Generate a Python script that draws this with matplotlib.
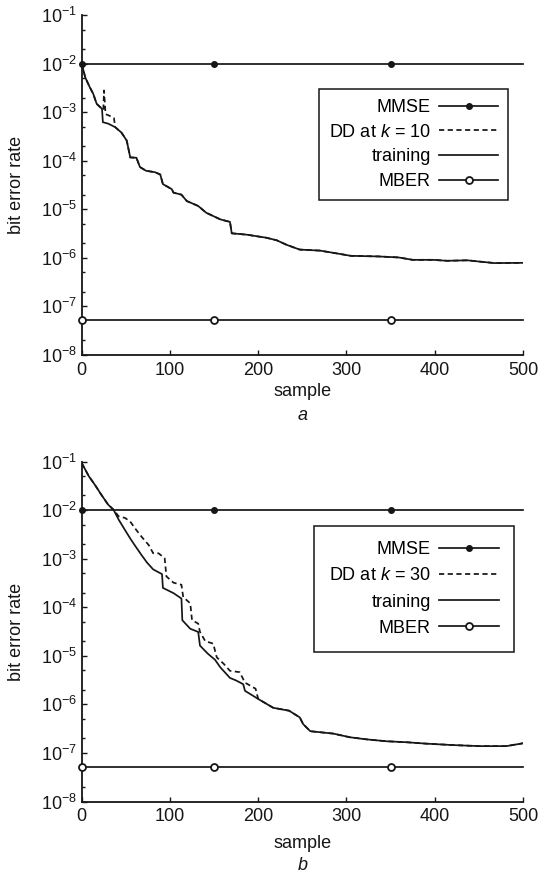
import matplotlib
matplotlib.use("Agg")
import matplotlib.pyplot as plt
from matplotlib.ticker import LogLocator, NullFormatter
from matplotlib.lines import Line2D

plt.rcParams['font.family'] = ['Liberation Sans', 'DejaVu Sans']
plt.rcParams['mathtext.fontset'] = 'custom'
plt.rcParams['mathtext.rm'] = 'Liberation Sans'
plt.rcParams['mathtext.it'] = 'Liberation Sans:italic'
plt.rcParams['mathtext.default'] = 'regular'

# ---- panel a: DD switched on at k = 10 ----
a_train_s = [0, 4, 9, 13, 17, 23, 24, 30, 38, 45, 51, 55, 62, 66, 73, 83, 89, 92,
             102, 104, 113, 119, 132, 141, 157, 168, 170, 187, 209, 221, 232, 247,
             270, 293, 305, 336, 359, 375, 398, 414, 437, 453, 468, 500]
a_train_ber = [1.0e-2, 5.2e-3, 3.3e-3, 2.4e-3, 1.48e-3, 1.17e-3, 6.2e-4, 5.8e-4,
               4.9e-4, 3.8e-4, 2.6e-4, 1.17e-4, 1.15e-4, 7.4e-5, 6.2e-5, 5.8e-5,
               5.2e-5, 3.3e-5, 2.6e-5, 2.2e-5, 2.0e-5, 1.48e-5, 1.17e-5, 8.5e-6,
               6.2e-6, 5.5e-6, 3.2e-6, 3.0e-6, 2.6e-6, 2.3e-6, 1.86e-6, 1.48e-6,
               1.41e-6, 1.20e-6, 1.10e-6, 1.07e-6, 1.02e-6, 9.1e-7, 9.1e-7, 8.7e-7,
               8.9e-7, 8.3e-7, 7.8e-7, 7.9e-7]
a_dd_s = [0, 4, 9, 13, 17, 23, 24.5, 25.3, 27, 31, 36.5, 38, 45, 51, 55, 62, 66,
          73, 83, 89, 92, 102, 104, 113, 119, 132, 141, 157, 168, 170, 187, 209,
          221, 232, 247, 270, 293, 305, 336, 359, 375, 398, 414, 437, 453, 468, 500]
a_dd_ber = [1.0e-2, 5.2e-3, 3.3e-3, 2.4e-3, 1.48e-3, 1.17e-3, 1.12e-3, 2.8e-3,
            9.1e-4, 8.5e-4, 7.6e-4, 4.9e-4, 3.8e-4, 2.6e-4, 1.17e-4, 1.15e-4,
            7.4e-5, 6.2e-5, 5.8e-5, 5.2e-5, 3.3e-5, 2.6e-5, 2.2e-5, 2.0e-5,
            1.48e-5, 1.17e-5, 8.5e-6, 6.2e-6, 5.5e-6, 3.2e-6, 3.0e-6, 2.6e-6,
            2.3e-6, 1.86e-6, 1.48e-6, 1.41e-6, 1.20e-6, 1.10e-6, 1.07e-6, 1.02e-6,
            9.1e-7, 9.1e-7, 8.7e-7, 8.9e-7, 8.3e-7, 7.8e-7, 7.9e-7]

# ---- panel b: DD switched on at k = 30 ----
b_train_s = [0, 8, 15, 22, 30, 36, 42, 49, 55, 60, 68, 74, 81, 91, 92, 104, 113,
             114, 123, 132, 134, 143, 151, 157, 168, 175, 183, 185, 200, 217, 235,
             247, 251, 259, 285, 304, 323, 345, 368, 391, 421, 451, 481, 500]
b_train_ber = [9.3e-2, 5.0e-2, 3.3e-2, 2.1e-2, 1.29e-2, 1.02e-2, 6.3e-3, 3.9e-3,
               2.6e-3, 1.9e-3, 1.17e-3, 8.3e-4, 6.0e-4, 4.8e-4, 2.5e-4, 1.95e-4,
               1.51e-4, 5.4e-5, 3.6e-5, 3.1e-5, 1.62e-5, 1.10e-5, 8.3e-6, 5.8e-6,
               3.5e-6, 3.1e-6, 2.6e-6, 1.9e-6, 1.29e-6, 8.5e-7, 7.4e-7, 5.4e-7,
               3.9e-7, 2.8e-7, 2.5e-7, 2.1e-7, 1.9e-7, 1.74e-7, 1.66e-7, 1.55e-7,
               1.45e-7, 1.38e-7, 1.38e-7, 1.58e-7]
b_dd_s = [0, 8, 15, 22, 30, 36, 42, 49, 55, 60, 68, 76, 81, 87, 94, 96, 104, 113,
          115, 123, 125, 132, 134, 140, 149, 153, 161, 168, 179, 185, 197, 200,
          217, 235, 247, 251, 259, 285, 304, 323, 345, 368, 391, 421, 451, 481, 500]
b_dd_ber = [9.3e-2, 5.0e-2, 3.3e-2, 2.1e-2, 1.29e-2, 1.02e-2, 7.4e-3, 6.9e-3,
            5.8e-3, 4.3e-3, 2.8e-3, 1.9e-3, 1.29e-3, 1.29e-3, 1.02e-3, 4.3e-4,
            3.2e-4, 2.9e-4, 1.62e-4, 1.20e-4, 5.4e-5, 4.6e-5, 3.1e-5, 2.0e-5,
            1.78e-5, 9.3e-6, 6.8e-6, 4.9e-6, 4.6e-6, 2.8e-6, 2.1e-6, 1.29e-6,
            8.5e-7, 7.4e-7, 5.4e-7, 3.9e-7, 2.8e-7, 2.5e-7, 2.1e-7, 1.9e-7,
            1.74e-7, 1.66e-7, 1.55e-7, 1.45e-7, 1.38e-7, 1.38e-7, 1.58e-7]

# fixed reference levels
mmse_ber = 1.0e-2
mber_ber = 5.2e-8
level_s = [0, 150, 350, 500]
marker_idx = [0, 1, 2]

xticks = [0, 100, 200, 300, 400, 500]
dd_labels = [r'DD at $\mathit{k}$ = 10', r'DD at $\mathit{k}$ = 30']
panel_tags = ['a', 'b']

INK = '#161616'
FS = 13

W, H = 540, 883
fig = plt.figure(figsize=(W / 100, H / 100), dpi=100)

ax_left = 81.7 / W
ax_w = 441.3 / W
ax_h = 340 / H
axes = [fig.add_axes([ax_left, 1 - 355 / H, ax_w, ax_h]),
        fig.add_axes([ax_left, 1 - 801.5 / H, ax_w, ax_h])]

panels = [(a_train_s, a_train_ber, a_dd_s, a_dd_ber),
          (b_train_s, b_train_ber, b_dd_s, b_dd_ber)]
legend_anchor = [(0.9667, 0.7815), (0.9796, 0.810)]
legend_pad = [0.55, 0.85]
legend_spacing = [0.42, 0.50]
label_y = [(392, 415), (843, 865)]
ylabel_y = [185, 631.5]

for i, ax in enumerate(axes):
    tr_s, tr_b, dd_s, dd_b = panels[i]
    ax.plot(level_s, [mmse_ber] * len(level_s), color=INK, lw=1.25,
            marker='o', ms=4, mfc=INK, mec=INK, markevery=marker_idx,
            clip_on=False, zorder=4)
    ax.plot(dd_s, dd_b, color=INK, lw=1.25, ls=(0, (3, 2)), zorder=3)
    ax.plot(tr_s, tr_b, color=INK, lw=1.25, zorder=3)
    ax.plot(level_s, [mber_ber] * len(level_s), color=INK, lw=1.25,
            marker='o', ms=5, mfc='white', mec=INK, mew=1.3,
            markevery=marker_idx, clip_on=False, zorder=4)

    ax.set_yscale('log')
    ax.set_ylim(1e-8, 1e-1)
    ax.set_xlim(0, 500)
    ax.set_xticks(xticks)
    ax.yaxis.set_major_locator(LogLocator(base=10, numticks=20))
    ax.yaxis.set_minor_locator(LogLocator(base=10, subs=(2.0, 5.0), numticks=20))
    ax.yaxis.set_minor_formatter(NullFormatter())
    ax.xaxis.set_minor_locator(plt.NullLocator())

    for side in ('top', 'right'):
        ax.spines[side].set_visible(False)
    for side in ('left', 'bottom'):
        ax.spines[side].set_linewidth(1.3)
        ax.spines[side].set_color(INK)
    ax.tick_params(which='both', direction='in', colors=INK, labelsize=FS,
                   top=False, right=False)
    ax.tick_params(which='major', length=3.8, width=1.0)
    ax.tick_params(which='minor', length=2.3, width=1.0)
    ax.tick_params(axis='y', pad=3.5)
    ax.tick_params(axis='x', pad=5)

    handles = [
        Line2D([], [], color=INK, lw=1.25, marker='o', ms=4, mfc=INK, mec=INK),
        Line2D([], [], color=INK, lw=1.25, ls=(0, (3, 2))),
        Line2D([], [], color=INK, lw=1.25),
        Line2D([], [], color=INK, lw=1.25, marker='o', ms=5, mfc='white',
               mec=INK, mew=1.3),
    ]
    labels = ['MMSE', dd_labels[i], 'training', 'MBER']
    leg = ax.legend(handles, labels, loc='upper right',
                    bbox_to_anchor=legend_anchor[i], borderaxespad=0,
                    markerfirst=False, numpoints=1, fontsize=FS,
                    handlelength=3.3, handletextpad=0.45,
                    labelspacing=legend_spacing[i],
                    borderpad=legend_pad[i], fancybox=False, framealpha=1,
                    edgecolor=INK)
    leg.get_frame().set_linewidth(1.1)

    fig.text(16.5 / W, 1 - ylabel_y[i] / H, 'bit error rate', rotation=90,
             ha='center', va='center', fontsize=FS, color=INK)
    fig.text((ax_left + ax_w / 2), 1 - label_y[i][0] / H, 'sample',
             ha='center', va='center', fontsize=FS, color=INK)
    fig.text((ax_left + ax_w / 2), 1 - label_y[i][1] / H, panel_tags[i],
             ha='center', va='center', fontsize=FS, color=INK, style='italic')

fig.savefig('out.png', dpi=100)
